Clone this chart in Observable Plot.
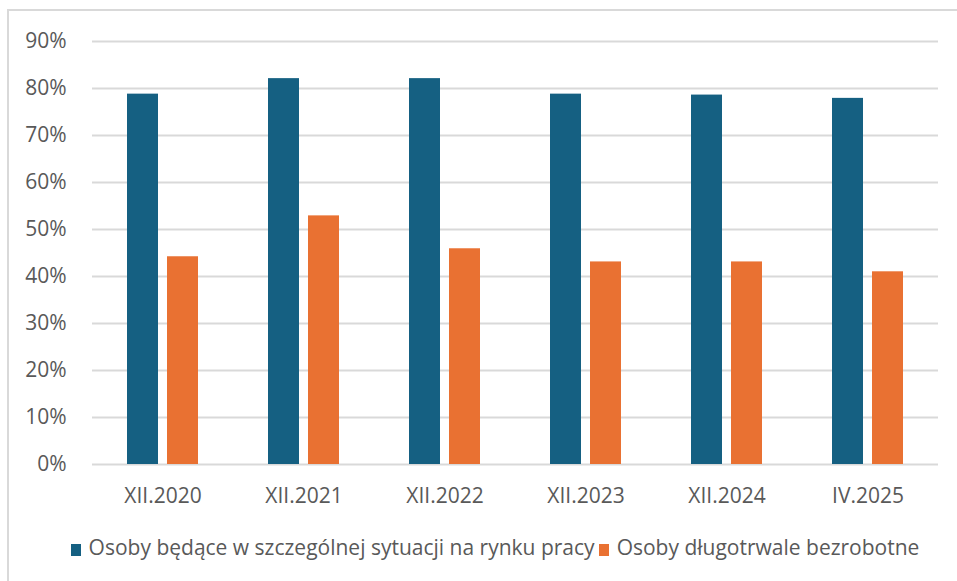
<!DOCTYPE html>
<html>
<head>
<meta charset="utf-8">
<script src="https://cdn.jsdelivr.net/npm/d3@7"></script>
<script src="https://cdn.jsdelivr.net/npm/@observablehq/plot@0.6"></script>
<style>
  html, body { margin: 0; padding: 0; background: #fff; }
  #wrap { position: relative; width: 957px; height: 581px; overflow: hidden; font-family: "Open Sans", sans-serif; }
  #bl { position: absolute; left: 7px; top: 10px; width: 2px; height: 571px; background: #d9d9d9; }
  #bt { position: absolute; left: 7px; top: 9px; width: 950px; height: 2px; background: #d9d9d9; }
  #chart { position: absolute; left: 0; top: 0; }
  #legend { position: absolute; left: 0; top: 533px; width: 990px; text-align: center; font-size: 21px; color: #595959; white-space: nowrap; }
  .sw { display: inline-block; width: 10px; height: 12px; margin-right: 8px; vertical-align: -1px; }
  .it { display: inline-block; margin: 0 2px; }
</style>
</head>
<body>
<div id="wrap">
  <div id="bl"></div>
  <div id="bt"></div>
  <div id="chart"></div>
  <div id="legend"></div>
</div>
<script>
const categories = ["XII.2020", "XII.2021", "XII.2022", "XII.2023", "XII.2024", "IV.2025"];
const seriesNames = ["Osoby będące w szczególnej sytuacji na rynku pracy", "Osoby długotrwale bezrobotne"];
const seriesColors = ["#156082", "#E97132"];
const specialSituation = [78.8, 82.1, 82.1, 78.8, 78.6, 77.9];
const longTermUnemployed = [44.2, 52.9, 45.9, 43.1, 43.1, 41.0];
const yTicks = [0, 10, 20, 30, 40, 50, 60, 70, 80, 90];

const data = [];
categories.forEach((c, i) => {
  data.push({cat: c, series: seriesNames[0], value: specialSituation[i]});
  data.push({cat: c, series: seriesNames[1], value: longTermUnemployed[i]});
});

const plot = Plot.plot({
  width: 957,
  height: 520,
  marginLeft: 89,
  marginRight: 17,
  marginTop: 41,
  marginBottom: 56,
  style: {fontFamily: "'Open Sans', sans-serif", fontSize: "21px", color: "#595959", background: "transparent"},
  fx: {domain: categories, padding: 0, label: null, tickSize: 0, tickPadding: 24},
  x: {domain: seriesNames, paddingInner: 0.22, paddingOuter: 0.84, axis: null},
  y: {domain: [0, 90], ticks: yTicks, tickFormat: d => d + "%", label: null, tickSize: 0, tickPadding: 26},
  color: {domain: seriesNames, range: seriesColors},
  marks: [
    Plot.ruleY(yTicks, {stroke: "#d9d9d9", strokeWidth: 2}),
    Plot.barY(data, {fx: "cat", x: "series", y: "value", fill: "series"})
  ]
});
document.getElementById("chart").appendChild(plot);

const legend = document.getElementById("legend");
seriesNames.forEach((n, i) => {
  const it = document.createElement("span");
  it.className = "it";
  const sw = document.createElement("span");
  sw.className = "sw";
  sw.style.background = seriesColors[i];
  it.appendChild(sw);
  it.appendChild(document.createTextNode(n));
  legend.appendChild(it);
});
</script>
</body>
</html>
